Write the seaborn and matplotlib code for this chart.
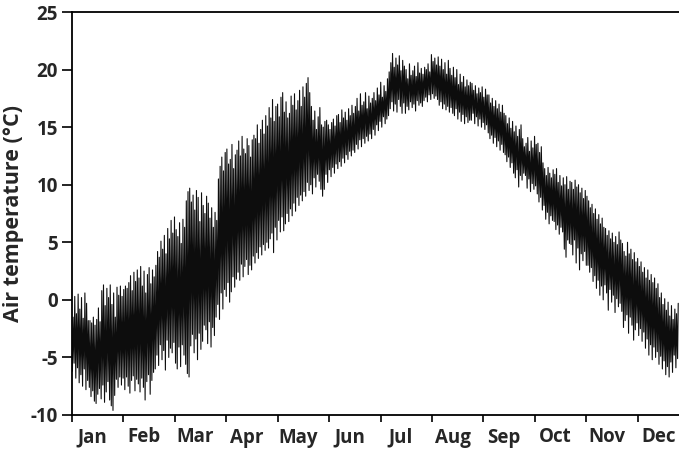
import numpy as np
import pandas as pd
import matplotlib
matplotlib.use("Agg")
import matplotlib.pyplot as plt
import seaborn as sns

# Month labels along the x axis, y ticks
months = ["Jan", "Feb", "Mar", "Apr", "May", "Jun",
          "Jul", "Aug", "Sep", "Oct", "Nov", "Dec"]
y_ticks = [-10, -5, 0, 5, 10, 15, 20, 25]

# Daily maximum air temperature (°C), day by day
tmax = [
    -1.5, 0.3, -1.2, 0.5, -0.8, 0.2, -1.6, 0.6, -0.3, -1.8,
    -1.8, -2.0, -1.5, -2.2, -1.7, -0.7, -1.9, 0.8, 1.3, -0.5,
    1.0, 0.2, 1.3, -0.4, 0.6, -1.5, 1.1, 0.4, 1.2, 0.3,
    0.9, 1.2, 1.0, 1.5, 2.1, 0.8, 2.4, 1.6, 2.6,
    1.9, 2.9, 1.2, 2.5, 0.6, 2.2, 2.8, 1.4, 2.6, 2.0,
    3.0, 4.2, 3.7, 5.1, 4.4, 5.6, 4.0, 6.2, 5.3, 6.9,
    5.8, 7.2, 6.1, 5.5, 6.7, 4.9, 7.0, 6.3, 8.6, 9.4,
    9.7, 8.5, 9.1, 7.8, 9.5, 8.9, 6.8, 9.3, 8.2, 7.5,
    9.0, 8.4, 7.1, 8.0, 6.3, 7.6, 6.9, 10.5, 11.6, 12.4,
    11.2, 12.8, 13.1, 11.8, 12.2, 13.5, 11.4, 12.6, 13.0,
    13.8, 12.5, 14.2, 13.1, 12.7, 14.0, 13.4, 12.4, 13.9, 14.3,
    14.0, 15.2, 13.6, 14.8, 15.6, 14.4, 16.0, 15.1, 16.7, 15.8,
    17.4, 15.5, 16.8, 17.0, 15.9, 17.6, 18.0, 16.3, 17.2, 15.8,
    16.2, 17.7, 16.9, 17.9, 16.5, 17.3, 18.2, 16.8, 18.5, 17.6,
    18.8, 19.3, 18.0, 16.8, 15.6, 16.4, 14.8, 15.9, 16.7, 15.2,
    15.0, 15.5, 15.6, 15.2, 14.8, 15.4, 15.7, 15.1, 16.0,
    16.1, 15.4, 16.5, 15.8, 16.3, 15.6, 16.6, 16.0, 16.9, 16.2,
    16.8, 17.5, 16.4, 17.9, 16.9, 17.2, 18.0, 16.6, 17.7, 17.1,
    17.5, 18.0, 17.3, 18.4, 17.8, 18.9, 17.6, 18.6, 18.1, 19.2,
    19.8, 20.6, 21.4, 20.2, 21.0, 20.4, 21.2, 19.9, 20.8, 20.3,
    20.0, 19.2, 20.5, 19.5, 19.9, 20.3, 19.4, 20.6, 19.7, 20.1,
    19.6, 20.2, 20.0, 20.5, 19.8, 21.3, 20.7, 21.0, 20.4,
    21.1, 20.3, 20.9, 20.0, 20.6, 19.6, 20.8, 20.1, 19.5, 20.2,
    19.3, 20.0, 18.7, 19.6, 18.9, 19.4, 18.5, 19.1, 18.6, 18.9,
    18.8, 18.2, 18.6, 17.9, 18.4, 18.0, 18.5, 17.6, 18.3, 17.8,
    17.8, 17.1, 17.5, 16.8, 17.3, 16.6, 17.0, 16.3, 16.9, 16.2,
    16.0, 15.3, 15.8, 14.9, 15.5, 14.6, 15.1, 14.2, 14.8, 15.2,
    14.0, 13.3, 13.6, 14.1, 12.9, 13.8, 13.2, 14.2, 13.5,
    13.6, 12.8, 13.3, 11.9, 11.4, 10.8, 11.5, 11.0, 10.6, 11.3,
    10.9, 11.4, 10.2, 10.8, 9.9, 10.6, 10.0, 10.7, 9.6, 10.3,
    10.2, 9.6, 10.4, 9.8, 10.0, 9.3, 9.7, 8.8, 9.5, 9.0,
    8.6, 8.0, 8.3, 7.5, 7.9, 7.0, 7.4, 6.6, 7.1, 6.3,
    6.2, 5.6, 6.0, 5.3, 5.8, 5.0, 5.5, 4.8, 5.9, 5.2,
    4.9, 4.2, 3.8, 5.0, 4.0, 4.4, 3.5, 4.1, 3.3,
    3.6, 2.9, 3.3, 2.4, 2.8, 1.9, 2.6, 1.7, 2.2, 1.5,
    1.9, 1.0, 1.4, 0.2, 0.6, -0.4, 0.1, -0.9, -0.2, -1.4,
    -0.5, -1.7, -0.8, -1.2, -0.3,
]

# Daily minimum air temperature (°C)
tmin = [
    -6.2, -5.5, -6.8, -5.9, -7.2, -6.5, -7.5, -6.0, -7.8, -7.0,
    -7.6, -8.4, -7.9, -8.8, -9.0, -8.2, -7.7, -8.6, -7.4, -8.9,
    -8.0, -7.1, -8.7, -9.2, -9.6, -8.3, -6.9, -7.6, -6.7, -7.4,
    -6.8, -7.8, -6.7, -7.5, -8.1, -7.0, -6.6, -7.9, -6.9,
    -7.3, -8.0, -6.8, -7.6, -8.7, -7.1, -6.5, -8.2, -7.0, -6.3,
    -6.0, -4.8, -5.7, -3.9, -5.2, -4.4, -6.1, -3.5, -5.0, -4.2,
    -4.6, -3.7, -5.5, -6.0, -4.1, -5.8, -3.9, -4.8, -5.6, -6.4,
    -6.7, -4.0, -3.0, -4.6, -3.4, -5.2, -2.9, -4.3, -3.6, -2.2,
    -2.6, -3.8, -1.9, -4.1, -2.4, -3.1, -1.5, -0.4, -1.7, 0.6,
    -0.8, 0.9, 0.3, 1.5, -0.2, 0.7, 2.0, 1.1, 1.8,
    2.4, 1.7, 3.1, 2.0, 2.9, 3.5, 2.2, 3.0, 2.6, 3.8,
    3.2, 4.1, 3.6, 4.6, 3.9, 4.8, 4.3, 5.0, 4.5, 5.3,
    5.8, 4.1, 6.3, 5.2, 6.9, 5.9, 7.2, 6.0, 6.6, 7.5,
    6.8, 7.9, 7.3, 8.4, 7.7, 8.9, 8.2, 9.1, 8.6, 9.4,
    9.0, 10.2, 9.5, 10.0, 9.2, 10.6, 9.8, 10.9, 10.3, 9.6,
    9.0, 9.6, 10.9, 10.2, 11.3, 10.7, 11.5, 11.0, 11.8,
    11.4, 12.0, 11.6, 12.3, 11.9, 12.6, 12.2, 12.9, 12.5, 13.0,
    12.8, 13.5, 13.1, 13.9, 13.3, 14.0, 13.6, 14.2, 13.8, 14.4,
    14.0, 14.8, 14.3, 15.2, 14.7, 15.5, 15.0, 15.9, 15.3, 15.7,
    16.0, 16.6, 17.2, 16.4, 17.0, 16.3, 17.4, 16.8, 16.2, 17.1,
    16.2, 16.8, 16.5, 17.2, 16.7, 17.0, 16.4, 17.3, 16.9, 17.1,
    16.8, 17.3, 17.6, 17.2, 17.8, 17.4, 17.9, 17.5, 17.7,
    17.4, 16.9, 17.2, 16.6, 17.0, 16.5, 16.8, 16.3, 16.7, 16.2,
    16.0, 16.6, 15.7, 16.3, 15.5, 16.1, 15.3, 15.9, 15.4, 15.6,
    15.6, 16.2, 15.3, 15.9, 15.1, 15.7, 15.0, 15.4, 14.8, 15.2,
    14.5, 14.0, 14.3, 13.6, 14.1, 13.3, 13.8, 13.0, 13.5, 12.8,
    12.6, 12.0, 12.4, 11.5, 11.9, 11.0, 10.6, 11.3, 9.8, 10.8,
    10.4, 11.0, 10.8, 9.7, 10.5, 9.4, 10.1, 9.6, 9.9,
    9.2, 8.5, 8.9, 7.8, 8.2, 7.0, 7.6, 6.6, 7.3, 6.9,
    6.8, 6.1, 6.5, 5.7, 6.3, 5.9, 4.4, 3.7, 5.2, 4.9,
    4.8, 3.9, 5.2, 3.2, 4.5, 2.6, 4.0, 3.4, 4.2, 3.0,
    3.0, 2.4, 2.8, 1.6, 2.1, 1.0, 1.7, 0.4, 1.2, 0.0,
    1.3, 0.6, -0.9, 0.9, -0.2, 0.4, -1.1, 0.1, -0.6, -0.3,
    -1.0, -2.4, -1.8, -1.3, -2.9, -1.5, -2.2, -3.5, -2.6,
    -2.0, -3.1, -2.5, -3.6, -2.8, -4.2, -3.4, -4.8, -3.9, -5.2,
    -4.1, -5.0, -4.5, -5.6, -4.9, -6.0, -5.3, -6.5, -5.8, -6.7,
    -5.4, -6.3, -4.8, -5.9, -5.1,
]

sns.set_style("ticks")
plt.rcParams["font.family"] = ["Open Sans", "DejaVu Sans"]
plt.rcParams["axes.unicode_minus"] = False

# daily cycle: minimum in the morning, maximum in the afternoon
day = np.arange(len(tmax))
df = pd.DataFrame({
    "t": np.column_stack([day + 0.25, day + 0.625]).ravel(),
    "temp": np.column_stack([tmin, tmax]).ravel(),
})

fig = plt.figure(figsize=(6.79, 4.57), dpi=100)
# the plot runs a little past the right edge of the image (cropped like the original)
ax = fig.add_axes([72 / 679, 42 / 457, 617 / 679, 403 / 457])
sns.lineplot(data=df, x="t", y="temp", ax=ax, color="#0d0d0d",
             linewidth=0.8, estimator=None, sort=False)

month_len = 365 / 12
ax.set_xlim(0, 365)
ax.set_ylim(-10, 25)
ax.set_yticks(y_ticks)
ax.set_xticks(np.arange(13) * month_len)
ax.set_xticklabels([])
ax.set_xticks((np.arange(12) + 0.4) * month_len, minor=True)
ax.set_xticklabels(months, minor=True)

ax.tick_params(axis="x", which="major", length=5, width=1.2, color="black")
ax.tick_params(axis="x", which="minor", length=0, pad=9, labelsize=13.5)
ax.tick_params(axis="y", length=7, width=1.2, color="black", pad=3, labelsize=13.5)
for lab in ax.get_xticklabels(minor=True) + ax.get_yticklabels():
    lab.set_fontweight("bold")

ax.set_xlabel("")
ax.set_ylabel("Air temperature (°C)", fontsize=15.5, fontweight="bold", labelpad=5)

for side in ["left", "bottom", "top"]:
    ax.spines[side].set_linewidth(1.3)
    ax.spines[side].set_color("black")
ax.spines["right"].set_visible(False)

fig.savefig("out.png", dpi=100)
